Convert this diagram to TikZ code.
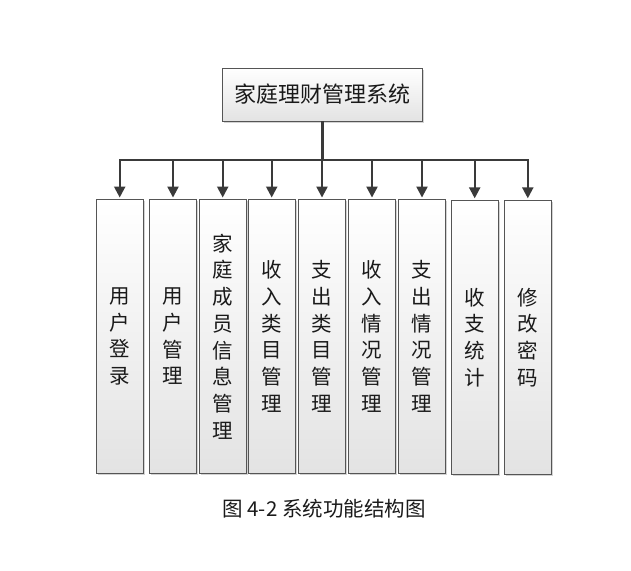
\documentclass[tikz,border=0pt]{standalone}
\usepackage{fontspec}
\setmainfont{Noto Sans CJK SC}
\usetikzlibrary{arrows.meta,shadows}
\definecolor{edgec}{HTML}{555555}
\definecolor{arrowc}{HTML}{3A3A3A}
\definecolor{txtc}{HTML}{1A1A1A}
\begin{document}
\begin{tikzpicture}[x=1pt,y=-1pt,
  box/.style={draw=edgec, line width=0.9pt, top color=white, bottom color=gray!22,
    drop shadow={shadow xshift=1.5pt, shadow yshift=-1.5pt, opacity=0.35, fill=gray},
    inner sep=0pt, text=txtc},
  col/.style={box, minimum width=47pt, minimum height=274pt, align=center,
    font=\fontsize{20.5}{26.7}\selectfont},
  arr/.style={draw=arrowc, line width=2.2pt, shorten >=1.5pt,
    -{Triangle[length=11pt,width=11pt]}}]
\useasboundingbox (0,0) rectangle (631,570);
\node[box, minimum width=200pt, minimum height=53pt,
  font=\fontsize{22}{26}\selectfont] (top) at (322.5,94.5) {家庭理财管理系统};
\coordinate (bus) at (322,160);
\node[col] (b1) at (119.7,336.5) {用\\户\\登\\录};
\node[col] (b2) at (173.0,336.5) {用\\户\\管\\理};
\node[col] (b3) at (222.7,336.5) {家\\庭\\成\\员\\信\\息\\管\\理};
\node[col] (b4) at (271.7,336.5) {收\\入\\类\\目\\管\\理};
\node[col] (b5) at (322.0,336.5) {支\\出\\类\\目\\管\\理};
\node[col] (b6) at (372.0,336.5) {收\\入\\情\\况\\管\\理};
\node[col] (b7) at (422.0,336.5) {支\\出\\情\\况\\管\\理};
\node[col] (b8) at (474.7,337.3) {收\\支\\统\\计};
\node[col] (b9) at (527.8,337.3) {修\\改\\密\\码};
\foreach \b in {b1,b2,b3,b4,b5,b6,b7,b8,b9}
  \draw[arr] (top.south) -- (top.south |- bus) -| (\b.north);
\node[text=txtc, font=\fontsize{20.5}{22}\selectfont] (cap) at (324,509) {图 4-2 系统功能结构图};
\end{tikzpicture}
\end{document}
